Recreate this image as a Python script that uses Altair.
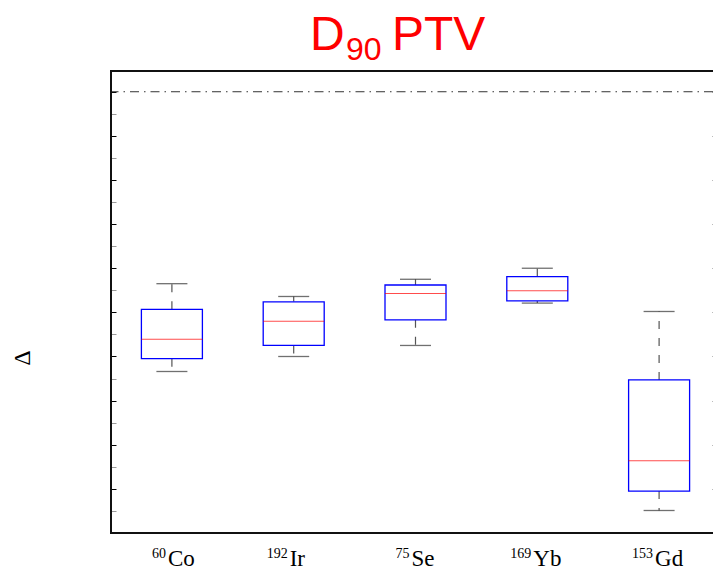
import altair as alt
import pandas as pd

# ---- data ----
isotopes = ["Co", "Ir", "Se", "Yb", "Gd"]
mass_numbers = ["60", "192", "75", "169", "153"]
whisk_hi = [-4.35, -4.64, -4.25, -4.00, -4.98]
q3 = [-4.93, -4.76, -4.38, -4.19, -6.53]
median = [-5.61, -5.20, -4.57, -4.51, -8.36]
q1 = [-6.05, -5.75, -5.17, -4.74, -9.05]
whisk_lo = [-6.34, -6.00, -5.75, -4.79, -9.49]
ref_line = [0.0]
y_domain = [-10.0, 0.47]
major_ticks = [float(v) for v in range(-10, 1)]
minor_ticks = [v + 0.5 for v in range(-10, 0)]

df = pd.DataFrame({"iso": isotopes, "mass": mass_numbers, "hi": whisk_hi, "q3": q3,
                   "med": median, "q1": q1, "lo": whisk_lo})
ref_df = pd.DataFrame({"v": ref_line})

W, H = 602, 462      # visible part of the plot area (the reference is cropped on the right)
FULL_W = 609         # full width of the plot frame in the reference

xscale = alt.Scale(type="point", padding=0.5, domain=isotopes, range=[0, FULL_W])
X = alt.X("iso:N", scale=xscale, axis=None, title=None)
yscale = alt.Scale(domain=y_domain, nice=False, zero=False)


def Y(field, axis=None):
    return alt.Y(field, scale=yscale, axis=axis, title=None)


yaxis_left = alt.Axis(values=sorted(major_ticks + minor_ticks), labels=False, domain=False,
                      grid=False, title=None, offset=-5, tickSize=5, tickWidth=1,
                      orient="left",
                      tickColor={"condition": {"test": "datum.value % 1 != 0",
                                               "value": "#999999"},
                                 "value": "black"})
yaxis_right = alt.Axis(values=major_ticks, labels=False, domain=False, orient="right",
                       grid=False, title=None, offset=-1, tickSize=2,
                       tickColor="#777777")

base = alt.Chart(df)

upper = base.mark_rule(color="#555555", strokeWidth=1.2, strokeDash=[8, 9]).encode(
    x=X, y=Y("q3:Q", yaxis_left), y2="hi:Q")
lower = base.mark_rule(color="#555555", strokeWidth=1.2, strokeDash=[8, 9]).encode(
    x=X, y=Y("q1:Q"), y2="lo:Q")
caps_hi = base.mark_tick(size=31, thickness=1.3, color="#333333").encode(x=X, y=Y("hi:Q"))
caps_lo = base.mark_tick(size=31, thickness=1.3, color="#333333").encode(x=X, y=Y("lo:Q"))
boxes = base.mark_bar(size=61, fill="white", stroke="#0000ff", strokeWidth=1.3).encode(
    x=X, y=Y("q1:Q"), y2="q3:Q")
meds = base.mark_tick(size=61, thickness=1, color="#ff0000").encode(x=X, y=Y("med:Q"))

refl = alt.Chart(ref_df).mark_rule(color="#333333", strokeWidth=1,
                                   strokeDash=[9, 5, 1.5, 5]).encode(y=Y("v:Q"))

right_ticks = alt.Chart(ref_df).mark_rule(opacity=0).encode(y=Y("v:Q", yaxis_right))

# frame (left, top, bottom; the right side is cropped off in the reference)
frame_top = alt.Chart(ref_df).mark_rule(color="#111111", strokeWidth=2).encode(
    x=alt.value(0), x2=alt.value(W + 2), y=alt.value(0))
frame_bottom = alt.Chart(ref_df).mark_rule(color="#111111", strokeWidth=2).encode(
    x=alt.value(0), x2=alt.value(W + 2), y=alt.value(H))
frame_left = alt.Chart(ref_df).mark_rule(color="#111111", strokeWidth=2).encode(
    x=alt.value(0), y=alt.value(-1), y2=alt.value(H + 1))

# x tick labels: element symbol with superscript mass number
lab_name = base.mark_text(font="Liberation Serif", fontSize=23, color="black",
                          align="left", baseline="alphabetic", dx=-4).encode(
    x=X, y=alt.value(H + 33), text="iso:N")
lab_mass = base.mark_text(font="Liberation Serif", fontSize=14, color="black",
                          align="right", baseline="alphabetic", dx=-6).encode(
    x=X, y=alt.value(H + 25), text="mass:N")

title_font = "Liberation Sans"
t1 = alt.Chart(ref_df).mark_text(text="D", font=title_font, fontSize=48, color="#ff0000",
                                 align="left", baseline="alphabetic").encode(
    x=alt.value(199), y=alt.value(-21))
t2 = alt.Chart(ref_df).mark_text(text="90", font=title_font, fontSize=32, color="#ff0000",
                                 align="left", baseline="alphabetic").encode(
    x=alt.value(235), y=alt.value(-11))
t3 = alt.Chart(ref_df).mark_text(text="PTV", font=title_font, fontSize=48, color="#ff0000",
                                 align="left", baseline="alphabetic").encode(
    x=alt.value(281), y=alt.value(-21))
ylab = alt.Chart(ref_df).mark_text(text="\u0394", font="Liberation Serif", fontSize=24,
                                   color="black", align="center",
                                   baseline="middle").encode(
    x=alt.value(-88), y=alt.value(287), angle=alt.value(270))

chart = alt.layer(refl, upper, lower, caps_hi, caps_lo, boxes, meds, right_ticks,
                  frame_top, frame_bottom, frame_left,
                  lab_name, lab_mass, t1, t2, t3, ylab).resolve_axis(
    y="independent").properties(
    width=W, height=H,
    autosize=alt.AutoSizeParams(type="none"),
    padding={"left": 111, "top": 71, "right": 0, "bottom": 37},
).configure_view(stroke=None).configure(background="white")

chart.save("out.html", embed_options={"renderer": "svg", "actions": False})
